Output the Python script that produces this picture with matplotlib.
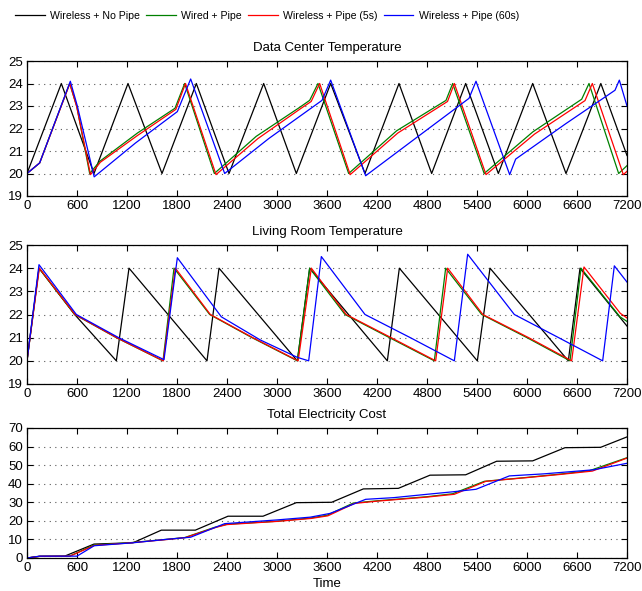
import matplotlib
matplotlib.use("Agg")
import matplotlib.pyplot as plt

plt.rcParams['font.family'] = ['Liberation Sans', 'DejaVu Sans']
plt.rcParams['font.size'] = 9

series_names = ["Wireless + No Pipe", "Wired + Pipe", "Wireless + Pipe (5s)", "Wireless + Pipe (60s)"]
series_colors = ["black", "#008000", "red", "blue"]

xticks = [0, 600, 1200, 1800, 2400, 3000, 3600, 4200, 4800, 5400, 6000, 6600, 7200]

# ---------------- Data Center Temperature ----------------
dc_nopipe_t = [0, 412, 804, 1212, 1620, 2032, 2424, 2840, 3232, 3644, 4056, 4464, 4856, 5264, 5656, 6068, 6468, 6886, 7200]
dc_nopipe_v = [20, 24, 20, 24, 20, 24, 20, 24, 20, 24, 20, 24, 20, 24, 20, 24, 20, 24, 20.8]

dc_wired_t = [0, 152, 512, 596, 752, 876, 1326, 1776, 1892, 2248, 2750, 3276, 3392, 3492, 3860, 4436, 5028, 5108, 5486, 6070, 6656, 6744, 7100, 7200]
dc_wired_v = [20, 20.47, 24, 23.0, 20, 20.55, 21.8, 22.9, 24, 20, 21.65, 22.95, 23.25, 24, 20, 21.9, 23.25, 24, 20, 21.85, 23.3, 24, 20, 20.35]

dc_w5_t = [0, 152, 514, 598, 762, 880, 1330, 1786, 1902, 2268, 2770, 3290, 3410, 3512, 3878, 4450, 5046, 5128, 5508, 6090, 6696, 6784, 7156, 7200]
dc_w5_v = [20, 20.47, 24, 22.95, 19.95, 20.5, 21.7, 22.85, 24, 19.95, 21.55, 22.9, 23.2, 24, 19.95, 21.8, 23.2, 24, 19.95, 21.75, 23.24, 24, 19.95, 20.1]

dc_w60_t = [0, 152, 520, 604, 806, 1300, 1804, 1964, 2372, 2900, 3540, 3644, 4064, 4676, 5304, 5388, 5792, 5864, 6460, 7056, 7108, 7200]
dc_w60_v = [20, 20.47, 24.1, 23.0, 19.85, 21.35, 22.75, 24.2, 20, 21.55, 23.25, 24.15, 19.9, 21.6, 23.34, 24.1, 19.95, 20.64, 22.2, 23.7, 24.15, 23.0]

# ---------------- Living Room Temperature ----------------
lr_nopipe_t = [0, 144, 572, 1072, 1224, 2160, 2304, 3244, 3392, 4324, 4468, 5404, 5556, 6496, 6636, 7200]
lr_nopipe_v = [20, 24, 22, 20, 24, 20, 24, 20, 24, 20, 24, 20, 24, 20, 24, 21.5]

lr_wired_t = [0, 144, 572, 1072, 1632, 1764, 2192, 2700, 3244, 3392, 3816, 4350, 4888, 5024, 5456, 6000, 6516, 6648, 7116, 7200]
lr_wired_v = [20, 24, 22, 21.0, 20, 24, 22, 21.0, 20, 24, 22, 21.0, 20, 24, 22, 21.0, 20, 24, 21.9, 21.7]

lr_w5_t = [0, 148, 576, 1076, 1636, 1780, 2200, 2710, 3254, 3412, 3830, 4370, 4904, 5048, 5470, 6020, 6536, 6684, 7120, 7200]
lr_w5_v = [20, 24, 22, 21.0, 20, 24, 22, 21.0, 20, 24, 22, 21.0, 20, 24, 22, 21.0, 20, 24.05, 22.05, 21.85]

lr_w60_t = [0, 144, 592, 1100, 1644, 1804, 2332, 2800, 3244, 3380, 3532, 4056, 4600, 5128, 5288, 5848, 6380, 6908, 7048, 7200]
lr_w60_v = [20, 24.15, 22, 21.0, 20.05, 24.45, 21.9, 20.9, 20.15, 20, 24.5, 22, 21.0, 20, 24.6, 22, 21.0, 20, 24.1, 23.4]

# ---------------- Total Electricity Cost ----------------
cost_nopipe_t = [0, 152, 452, 804, 1272, 1612, 2020, 2412, 2832, 3232, 3656, 4036, 4456, 4836, 5264, 5636, 6068, 6456, 6884, 7200]
cost_nopipe_v = [0, 0.9, 1, 7.5, 8.2, 15, 15, 22.5, 22.5, 29.8, 30, 37.2, 37.5, 44.6, 44.8, 52.1, 52.3, 59.4, 59.6, 65.2]

cost_wired_t = [0, 152, 512, 804, 1200, 1664, 1892, 2250, 2400, 3000, 3400, 3600, 3916, 4200, 4800, 5108, 5488, 6000, 6400, 6748, 7200]
cost_wired_v = [0, 0.9, 1.0, 7.0, 8.1, 10.0, 11.0, 16.5, 18.2, 19.8, 21.5, 23.0, 29.6, 30.8, 33.0, 34.6, 41.3, 43.4, 45.2, 47.0, 54.0]

cost_w5_t = [0, 152, 514, 810, 1200, 1668, 1902, 2268, 2400, 3000, 3410, 3610, 3930, 4200, 4800, 5128, 5508, 6000, 6400, 6784, 7200]
cost_w5_v = [0, 0.9, 1.0, 6.8, 8.0, 9.9, 11.0, 16.5, 18.0, 19.7, 21.3, 22.7, 29.4, 30.6, 32.8, 34.3, 41.3, 43.3, 45.0, 46.8, 53.8]

cost_w60_t = [0, 152, 600, 806, 1272, 1664, 1964, 2372, 3000, 3400, 3636, 4064, 4400, 4800, 5100, 5388, 5788, 6200, 6800, 7200]
cost_w60_v = [0, 1.0, 1.0, 6.6, 8.2, 10.0, 11.2, 18.5, 20.5, 22.0, 24.0, 31.6, 32.5, 34.3, 35.6, 37.0, 44.2, 45.3, 47.5, 51.0]

fig = plt.figure(figsize=(6.42, 5.91), dpi=100)

axes_pos = [
    [27/642, 1 - 196/591, 600/642, 135/591],
    [27/642, 1 - 384/591, 600/642, 139/591],
    [27/642, 1 - 558/591, 600/642, 130/591],
]
titles = ["Data Center Temperature", "Living Room Temperature", "Total Electricity Cost"]
datasets = [
    [(dc_nopipe_t, dc_nopipe_v), (dc_wired_t, dc_wired_v), (dc_w5_t, dc_w5_v), (dc_w60_t, dc_w60_v)],
    [(lr_nopipe_t, lr_nopipe_v), (lr_wired_t, lr_wired_v), (lr_w5_t, lr_w5_v), (lr_w60_t, lr_w60_v)],
    [(cost_nopipe_t, cost_nopipe_v), (cost_wired_t, cost_wired_v), (cost_w5_t, cost_w5_v), (cost_w60_t, cost_w60_v)],
]
ylims = [(19, 25), (19, 25), (0, 70)]
yticks_list = [list(range(19, 26)), list(range(19, 26)), list(range(0, 71, 10))]

handles = []
for i in range(3):
    ax = fig.add_axes(axes_pos[i])
    for j, (t, v) in enumerate(datasets[i]):
        ln, = ax.plot(t, v, color=series_colors[j], lw=0.9, label=series_names[j])
        if i == 0:
            handles.append(ln)
    ax.set_xlim(0, 7200)
    ax.set_ylim(*ylims[i])
    ax.set_xticks(xticks)
    ax.set_yticks(yticks_list[i])
    ax.tick_params(direction='in', top=True, right=True, length=4, width=0.8, labelsize=9.5, pad=3)
    ax.yaxis.grid(True, linestyle=(0, (1, 4)), color='0.35', linewidth=0.8)
    ax.set_axisbelow(True)
    for s in ax.spines.values():
        s.set_linewidth(0.9)
    ax.set_title(titles[i], fontsize=9.5, pad=7)
    if i == 2:
        ax.set_xlabel("Time", fontsize=9.5, labelpad=3)

fig.legend(handles, series_names, loc='center', bbox_to_anchor=(267/642, 1 - 16/591), ncol=4,
           frameon=False, fontsize=7.6, handlelength=2.8, handletextpad=0.5, columnspacing=0.6,
           borderaxespad=0)

fig.savefig("out.png", dpi=100)
